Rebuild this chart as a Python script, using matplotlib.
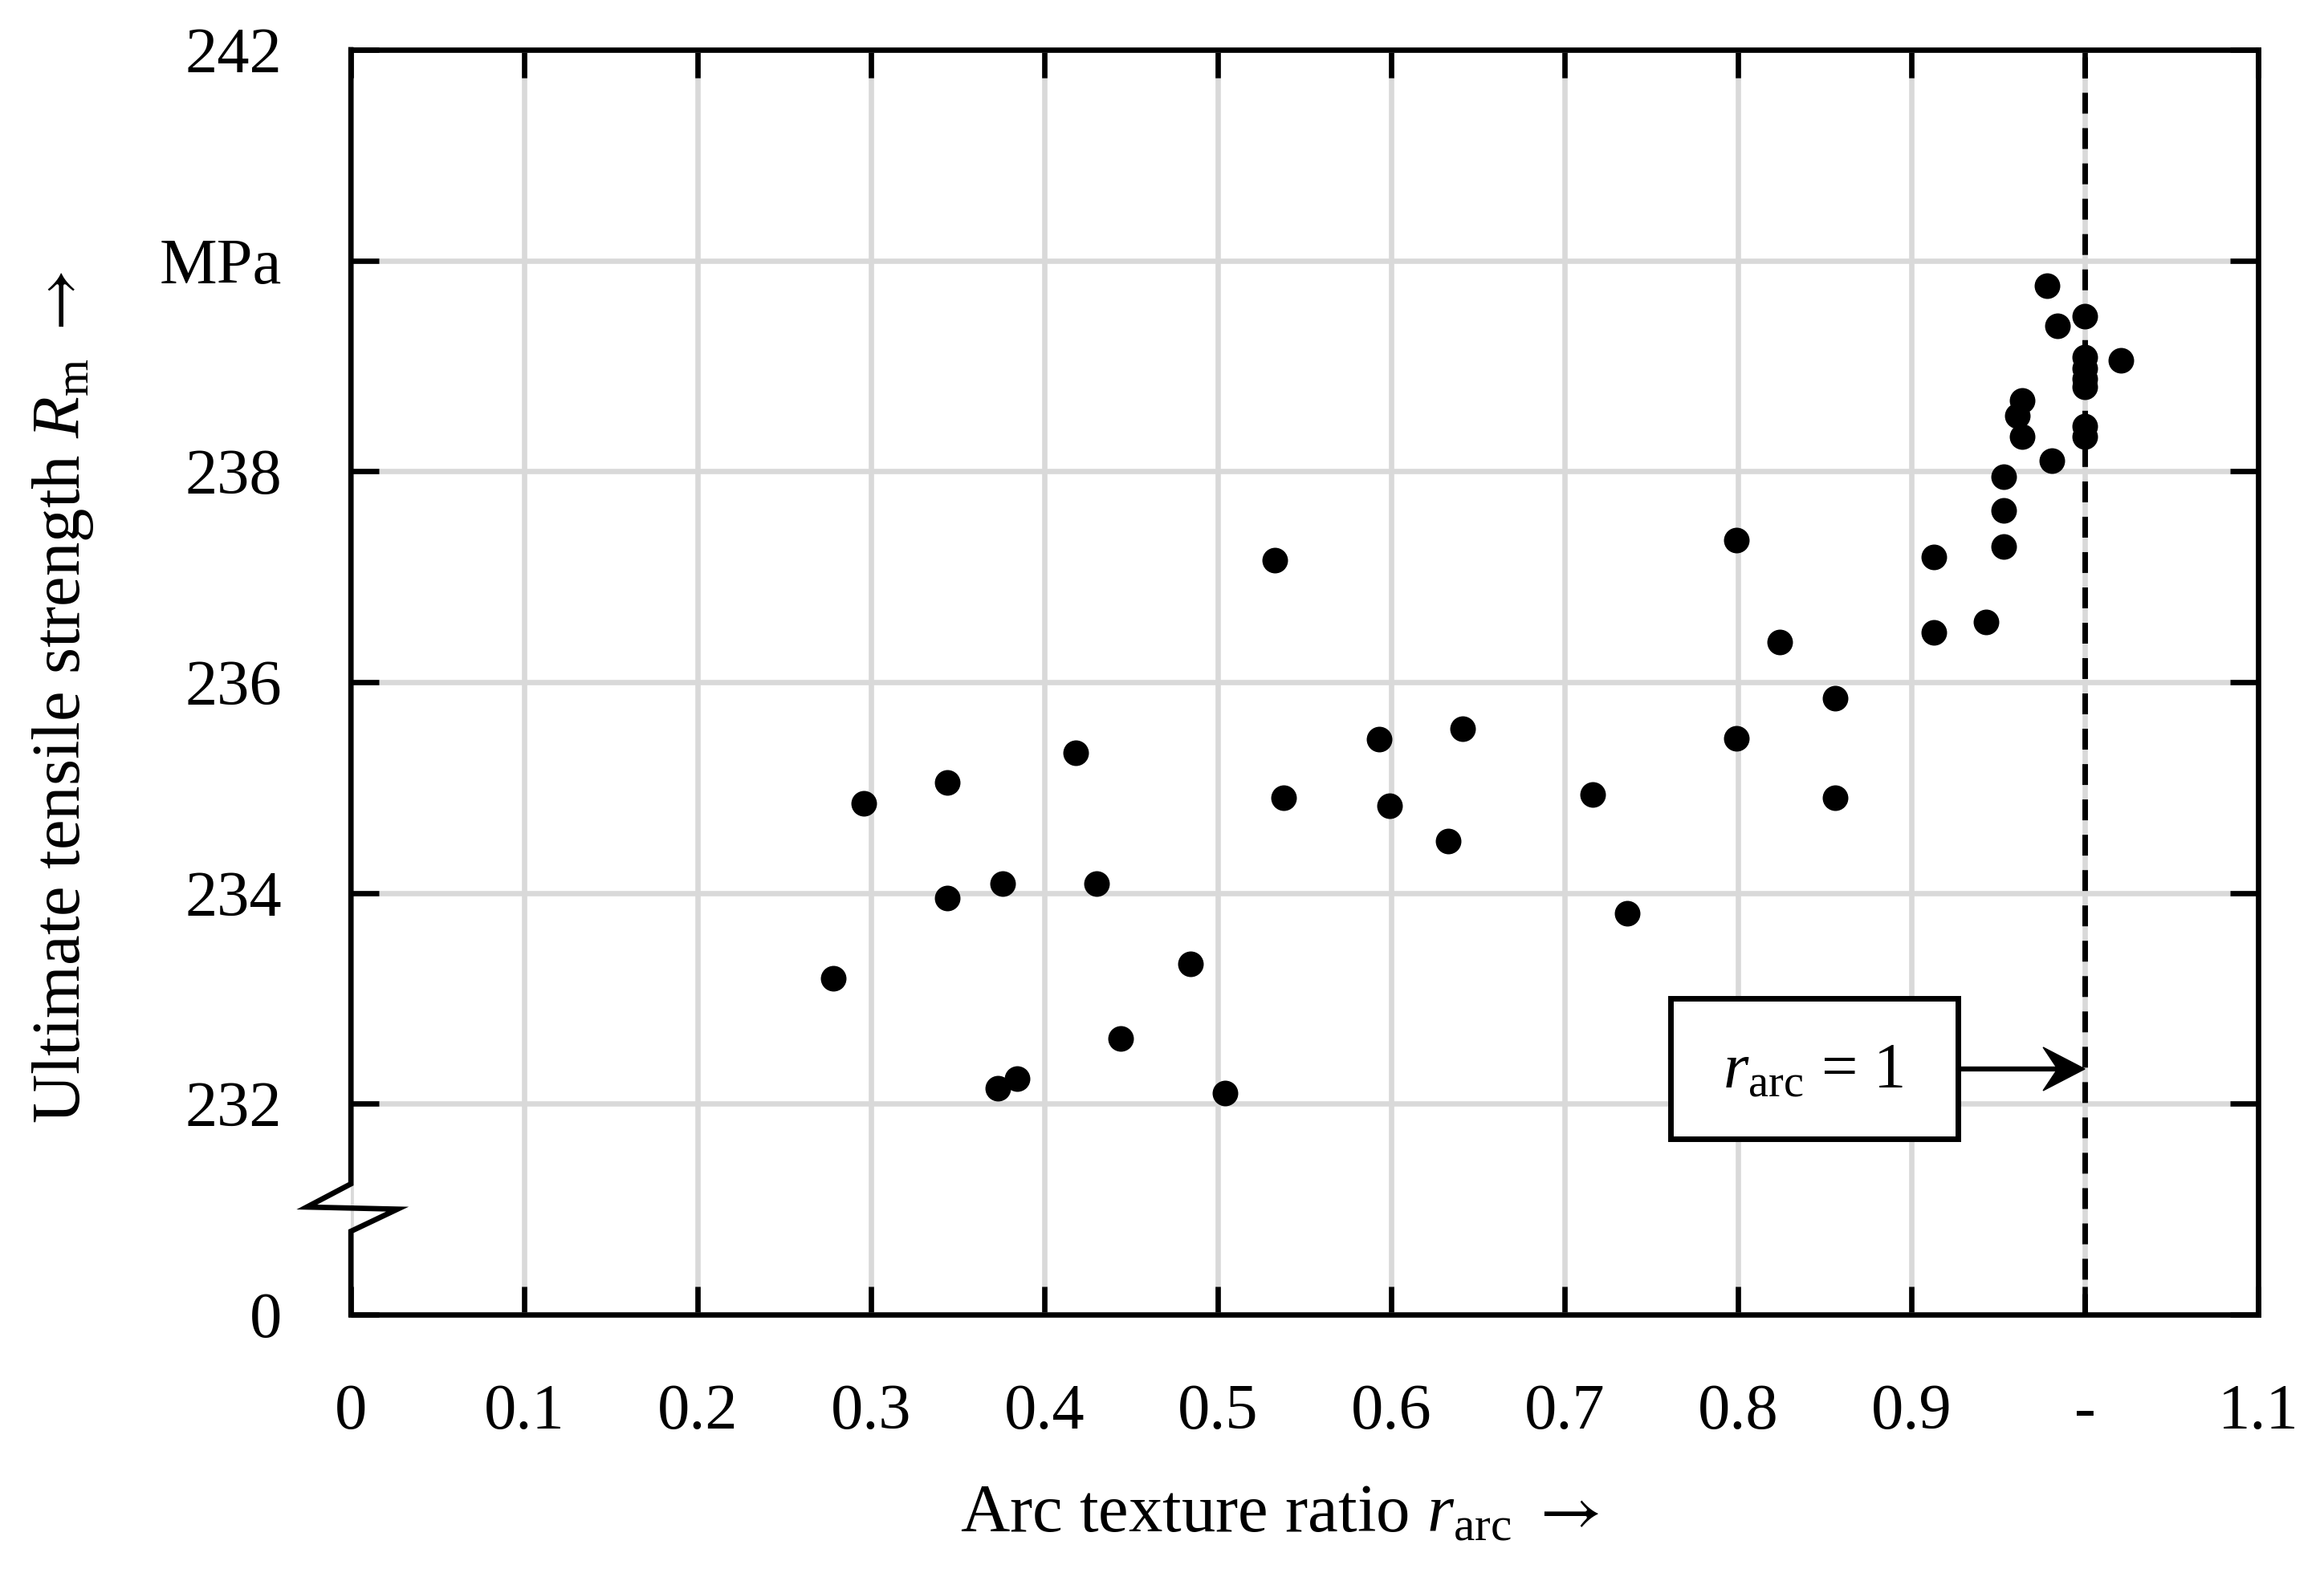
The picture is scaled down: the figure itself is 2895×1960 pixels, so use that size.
import matplotlib
matplotlib.use('Agg')
import matplotlib.pyplot as plt
from matplotlib.patches import Rectangle, Polygon
from matplotlib.transforms import ScaledTranslation

plt.rcParams['font.family'] = ['Liberation Serif', 'DejaVu Serif']
plt.rcParams['mathtext.fontset'] = 'custom'
plt.rcParams['mathtext.rm'] = 'Liberation Serif'
plt.rcParams['mathtext.it'] = 'Liberation Serif:italic'
plt.rcParams['mathtext.sf'] = 'STIXGeneral'
plt.rcParams['lines.scale_dashes'] = False

# ---- data ----
r_arc = [0.278, 0.296, 0.344, 0.344, 0.376, 0.373, 0.384, 0.418, 0.430, 0.444,
         0.484, 0.504, 0.533, 0.538, 0.593, 0.599, 0.633, 0.641, 0.716, 0.736,
         0.799, 0.799, 0.824, 0.856, 0.856, 0.913, 0.913, 0.943, 0.953, 0.953,
         0.953, 0.961, 0.964, 0.964, 0.981, 0.978, 0.984, 1.000, 1.000, 1.000,
         1.000, 1.000, 1.000, 1.000, 1.021]
rm_mpa = [233.19, 234.85, 235.05, 233.95, 234.09, 232.15, 232.24, 235.33, 234.09, 232.62,
          233.33, 232.10, 237.16, 234.90, 235.46, 234.83, 234.49, 235.56, 234.93, 233.81,
          237.35, 235.47, 236.38, 235.85, 234.90, 237.19, 236.47, 236.57, 237.95, 237.63,
          237.29, 238.53, 238.67, 238.33, 238.10, 239.76, 239.38, 239.47, 239.08, 238.98,
          238.88, 238.80, 238.43, 238.33, 239.05]

x_ticks = [0, 0.1, 0.2, 0.3, 0.4, 0.5, 0.6, 0.7, 0.8, 0.9, 1.0, 1.1]
x_ticklabels = ['0', '0.1', '0.2', '0.3', '0.4', '0.5', '0.6', '0.7', '0.8', '0.9', '-', '1.1']
y_ticks = [230, 232, 234, 236, 238, 240, 242]
y_ticklabels = ['0', '232', '234', '236', '238', 'MPa', '242']

ref_line_x = 1.0
box_text = r'$r_{\mathrm{arc}}$ = 1'
xlabel_text = r'Arc texture ratio $r_{\mathrm{arc}}$ $\mathsf{\rightarrow}$'
ylabel_text = r'Ultimate tensile strength $R_{\mathrm{m}}$ $\mathsf{\rightarrow}$'

FS = 58
FS_LAB = 61
LW = 4.8

fig = plt.figure(figsize=(28.95, 19.6), dpi=100)
ax = fig.add_axes([0.151, 0.1643, 0.8207, 0.8041])
ax.set_xlim(0, 1.1)
ax.set_ylim(230, 242)

ax.set_xticks(x_ticks)
ax.set_xticklabels(x_ticklabels)
ax.set_yticks(y_ticks)
ax.set_yticklabels(y_ticklabels)
ax.tick_params(axis='both', which='both', direction='in', length=25, width=LW,
               top=True, right=True, labelsize=FS, pad=62, colors='k')

ax.grid(True, color='#d9d9d9', lw=4.8, zorder=0)
ax.set_axisbelow(True)

for s in ['top', 'right', 'bottom']:
    ax.spines[s].set_linewidth(LW)
ax.spines['left'].set_visible(False)

# left spine with axis-break symbol
ax.plot([0, 0, -0.0231, 0.0244, 0, 0],
        [242, 231.24, 231.02, 231.0, 230.79, 230],
        transform=ax.get_yaxis_transform(), color='k', lw=LW,
        clip_on=False, solid_joinstyle='miter', solid_capstyle='projecting', zorder=6)

# dashed reference line
ax.axvline(ref_line_x, color='k', lw=5.0, dashes=(18.7, 13), zorder=3)

# data points
ax.plot(r_arc, rm_mpa, 'o', color='k', ms=23, mec='none', zorder=5, clip_on=False)

# annotation box + arrow
arrow_y = 232.33
ax.add_patch(Rectangle((0.761, 231.67), 0.166, 1.33, facecolor='white',
                       edgecolor='k', lw=5, zorder=6))
ax.text(0.8435, 232.30, box_text, fontsize=FS, ha='center', va='center', zorder=7)
ax.annotate('', xy=(ref_line_x, arrow_y), xytext=(0.927, arrow_y),
            arrowprops=dict(arrowstyle='-', lw=4.5, color='k', shrinkA=0, shrinkB=20),
            zorder=7)
head_tr = fig.dpi_scale_trans + ScaledTranslation(ref_line_x, arrow_y, ax.transData)
ax.add_patch(Polygon([(0, 0), (-0.52, 0.27), (-0.34, 0), (-0.52, -0.27)],
                     closed=True, facecolor='k', edgecolor='k', lw=1,
                     transform=head_tr, zorder=8, clip_on=False))

# axis labels
ax.text(0.487, -0.158, xlabel_text, fontsize=FS_LAB, ha='center', va='center',
        transform=ax.transAxes)
ax.text(-0.151, 0.488, ylabel_text, fontsize=FS_LAB, ha='center', va='center',
        rotation=90, transform=ax.transAxes)

fig.savefig('out.png', dpi=100, facecolor='white')
